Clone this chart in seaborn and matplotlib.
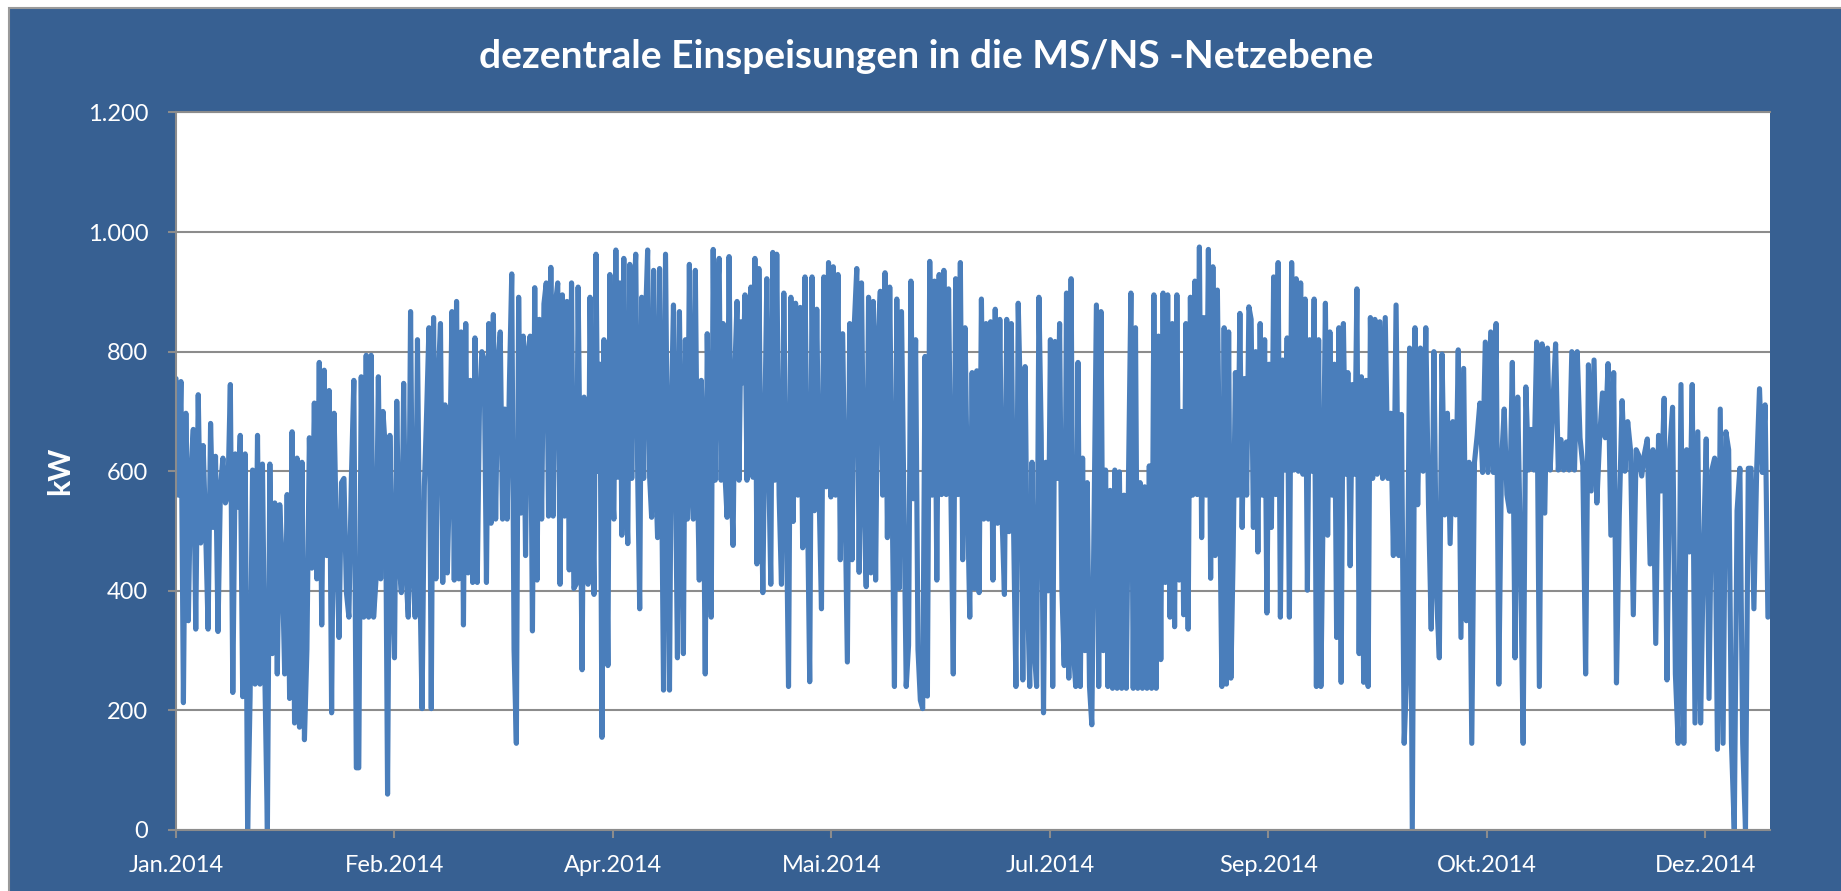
import numpy as np
import pandas as pd
import matplotlib
matplotlib.use('Agg')
import matplotlib.pyplot as plt
import seaborn as sns
from matplotlib.patches import Rectangle

# values (kW), in time order, one list per ~46-day stretch
kw_p1 = [755, 560, 750, 213, 697, 350, 600, 670, 336, 728, 480, 643, 500, 336, 680, 506,
         625, 332, 574, 622, 547, 560, 745, 230, 629, 540, 660, 223, 629, 0, 223, 602,
         244, 660, 244, 612, 250, 0, 612, 295, 547, 261, 544, 445, 261, 561, 220, 666,
         179, 622, 172, 615, 151, 302, 656, 438, 714, 420, 782, 343, 769, 459, 735, 196,
         697, 479, 322, 581, 588, 397, 356, 588, 752, 104, 104, 758, 356, 794, 356, 794, 356]
kw_p2 = [420, 758, 420, 700, 639, 60, 660, 420, 288, 717, 450, 397, 747, 430, 356, 867,
         430, 356, 820, 430, 203, 575, 700, 840, 203, 857, 420, 750, 847, 414, 711, 430,
         600, 867, 418, 884, 420, 833, 343, 847, 430, 752, 414, 823, 414, 720, 800, 786,
         414, 847, 513, 862, 520, 780, 833, 520, 704, 520, 750, 930, 302, 145, 891, 530,
         826, 459, 800, 826, 333, 907, 418, 854, 520, 880, 915, 525, 941, 525, 880, 915,
         411, 895, 525, 884, 435, 915, 404]
kw_p3 = [411, 908, 600, 268, 724, 600, 411, 891, 600, 394, 963, 600, 779, 155, 820, 600,
         275, 929, 590, 520, 970, 590, 915, 493, 956, 590, 479, 946, 588, 880, 963, 590,
         370, 891, 588, 860, 970, 590, 523, 936, 600, 489, 939, 600, 234, 963, 590, 234,
         711, 878, 600, 288, 867, 600, 295, 820, 520, 946, 590, 520, 936, 600, 418, 752,
         620, 261, 830, 600, 356, 971, 585, 880, 956, 585, 847, 590, 523, 959, 600, 476,
         779, 884, 585, 850, 748, 895, 585, 860, 908, 590, 956, 445, 939, 600, 397, 680,
         922, 600, 411, 966, 585]
kw_p4 = [963, 560, 411, 898, 560, 240, 891, 516, 881, 560, 874, 472, 925, 560, 248, 925,
         534, 871, 560, 370, 925, 574, 949, 557, 942, 560, 929, 452, 830, 560, 281, 847,
         452, 850, 939, 431, 915, 560, 407, 891, 430, 884, 418, 820, 901, 560, 932, 489,
         908, 560, 240, 888, 404, 867, 560, 240, 309, 918, 554, 820, 302, 217, 203, 792,
         224, 951, 560, 918, 418, 929, 561, 936, 561, 905, 560, 261, 922, 561, 949, 452,
         840, 560, 356, 765, 404]
kw_p5 = [768, 397, 888, 520, 847, 520, 850, 418, 871, 513, 854, 520, 394, 854, 499, 847,
         500, 240, 881, 711, 251, 775, 400, 240, 615, 300, 240, 891, 660, 196, 615, 400,
         820, 240, 817, 588, 847, 400, 275, 898, 254, 922, 300, 240, 782, 240, 622, 300,
         581, 240, 176, 527, 878, 240, 867, 300, 602, 240, 568, 237, 602, 237, 599, 237,
         560, 237, 602, 898, 237, 840, 237, 581, 237, 574, 237, 609, 237, 895, 237, 826,
         285, 898, 414, 895, 356, 847, 340]
kw_p6 = [895, 418, 700, 360, 847, 336, 891, 560, 918, 561, 975, 489, 857, 560, 971, 421,
         942, 459, 903, 560, 240, 840, 244, 833, 254, 459, 765, 560, 864, 506, 755, 560,
         875, 854, 506, 800, 465, 847, 560, 820, 363, 779, 506, 925, 561, 949, 356, 786,
         602, 823, 356, 949, 602, 922, 600, 915, 595, 888, 401, 820, 600, 888, 240, 820,
         240, 540, 881, 493, 833, 560, 779, 322, 840, 247, 847, 595, 765, 442, 745, 595,
         905, 295, 758, 247, 752, 240, 857, 588, 854]
kw_p7 = [595, 850, 588, 857, 588, 697, 459, 878, 459, 695, 145, 268, 806, 0, 840, 544,
         806, 600, 840, 544, 336, 800, 390, 288, 796, 527, 697, 479, 683, 527, 803, 322,
         772, 350, 615, 145, 615, 660, 714, 598, 816, 598, 833, 598, 847, 244, 615, 704,
         561, 533, 782, 288, 724, 465, 145, 741, 602, 670, 602, 816, 240, 813, 530, 806,
         602, 711, 813, 602, 653, 602, 649, 602, 800, 602]
kw_p8 = [800, 656, 609, 261, 778, 567, 786, 547, 656, 731, 656, 780, 493, 765, 246, 527,
         718, 600, 683, 636, 360, 636, 626, 592, 630, 654, 445, 636, 312, 660, 567, 722,
         251, 636, 707, 261, 145, 745, 145, 636, 465, 745, 179, 666, 179, 459, 654, 220,
         602, 622, 135, 704, 145, 666, 636, 145, 0, 534, 605, 145, 0, 605, 605, 370,
         605, 738, 598, 711, 356]

period_starts = ['2014-01-01 00:00', '2014-02-15 19:00', '2014-04-02 14:00', '2014-05-18 12:00',
                 '2014-07-03 07:00', '2014-08-18 02:00', '2014-10-02 22:00', '2014-11-17 17:00',
                 '2015-01-01 00:00']

tick_dates = ['2014-01-01', '2014-02-20', '2014-04-11', '2014-05-31',
              '2014-07-20', '2014-09-08', '2014-10-28', '2014-12-17']
tick_labels = ['Jan.2014', 'Feb.2014', 'Apr.2014', 'Mai.2014',
               'Jul.2014', 'Sep.2014', 'Okt.2014', 'Dez.2014']
y_ticks = [0, 200, 400, 600, 800, 1000, 1200]

periods = [kw_p1, kw_p2, kw_p3, kw_p4, kw_p5, kw_p6, kw_p7, kw_p8]
frames = []
for start, end, vals in zip(period_starts[:-1], period_starts[1:], periods):
    t = pd.date_range(start, end, periods=len(vals) + 1)[:-1]
    frames.append(pd.DataFrame({'Zeit': t, 'kW': vals}))
df = pd.concat(frames, ignore_index=True)

BG = '#376092'
LINE = '#4A7EBB'
GRID = '#8C8C8C'

plt.rcParams['font.family'] = ['Lato', 'DejaVu Sans']

fig = plt.figure(figsize=(18.41, 8.91), dpi=100, facecolor='white')
fig.add_artist(Rectangle((9 / 1841, -0.05), 1.05, (891 - 8) / 891 + 0.05, transform=fig.transFigure,
                         facecolor=BG, edgecolor='#9A9A9A', linewidth=1.5, zorder=-10))

ax = fig.add_axes([176 / 1841, 61 / 891, 1594 / 1841, 717.5 / 891])
ax.set_zorder(1)
ax.set_facecolor('white')

sns.lineplot(data=df, x='Zeit', y='kW', ax=ax, estimator=None, sort=False,
             color=LINE, linewidth=3.7, solid_joinstyle='round', solid_capstyle='round')

ax.set_xlim(pd.Timestamp('2014-01-01'), pd.Timestamp('2014-12-31 20:00'))
ax.set_ylim(0, 1200)
ax.set_yticks(y_ticks)
ax.set_yticklabels([f'{v:,.0f}'.replace(',', '.') for v in y_ticks])
ax.set_xticks(pd.to_datetime(tick_dates))
ax.set_xticklabels(tick_labels)

ax.grid(axis='y', color=GRID, linewidth=1.5)
ax.grid(axis='x', visible=False)
ax.set_axisbelow(True)
ax.spines['right'].set_visible(False)
for side in ['left', 'bottom', 'top']:
    ax.spines[side].set_color(GRID)
    ax.spines[side].set_linewidth(1.5)

ax.tick_params(axis='both', colors=GRID, length=6, width=1.5, labelcolor='white', labelsize=17)
ax.tick_params(axis='y', pad=14)
ax.tick_params(axis='x', pad=12)

ax.set_xlabel('')
ax.set_ylabel('kW', color='white', fontsize=22, fontweight='bold')
ax.yaxis.set_label_coords(-0.064, 0.5)

fig.text(0.503, 1 - 56 / 891, 'dezentrale Einspeisungen in die MS/NS -Netzebene',
         ha='center', va='center', color='white', fontsize=28, fontweight='bold')

plt.savefig('out.png', dpi=100, facecolor=fig.get_facecolor())
